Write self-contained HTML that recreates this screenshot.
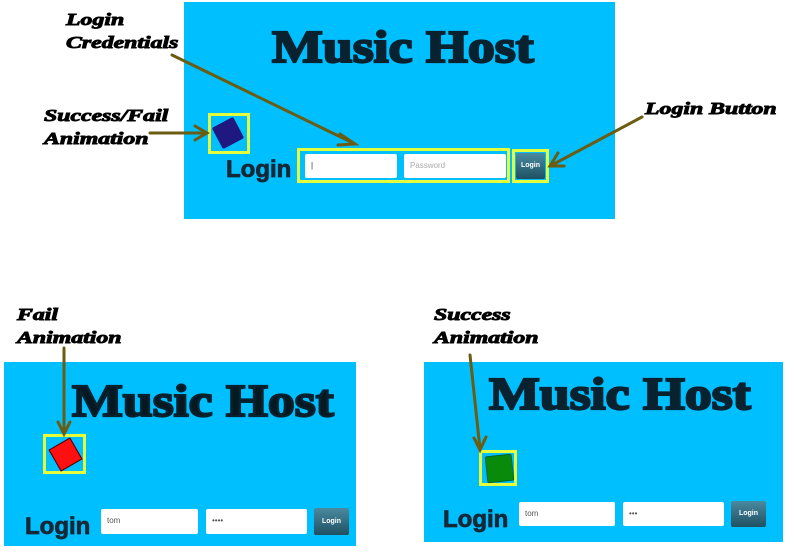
<!DOCTYPE html>
<html><head><meta charset="utf-8"><style>
body{margin:0;width:794px;height:552px;background:#fff;position:relative;overflow:hidden;font-family:"Liberation Sans",sans-serif}
.p{position:absolute;background:#00bfff}
.a{position:absolute}
.t{position:absolute;font-family:"Liberation Serif",serif;font-weight:bold;color:#082230;font-size:46px;white-space:nowrap;transform:scaleX(1.17);transform-origin:left;-webkit-text-stroke:2.2px #082230}
.lg{position:absolute;font-weight:bold;color:#142838;font-size:24px;-webkit-text-stroke:0.8px #142838}
.in{position:absolute;background:#fff;border-radius:2px;font-size:8px;color:#555;line-height:24px;padding-left:6px;box-sizing:border-box}
.bt{position:absolute;background:linear-gradient(#4a8aa0,#1f5062);color:#fff;font-size:7px;font-weight:bold;text-align:center;border-radius:2px}
.y{position:absolute;border:3px solid #e4ff3c;box-sizing:border-box}
.lb{position:absolute;font-family:"Liberation Serif",serif;font-weight:bold;font-style:italic;font-size:17px;line-height:23px;color:#000;white-space:nowrap;transform:scaleX(1.4);transform-origin:left;-webkit-text-stroke:0.9px #000}
</style></head><body>
<div class="p" style="left:184px;top:2px;width:431px;height:217px"></div>
<div class="t" style="left:272px;top:20px">Music Host</div>
<div class="y" style="left:208px;top:113px;width:42px;height:41px"></div>
<div class="a" style="left:216px;top:121px;width:24px;height:24px;background:#1e1880;transform:rotate(-28deg);border-radius:2px"></div>
<div class="lg" style="left:226px;top:156px">Login</div>
<div class="y" style="left:297px;top:148px;width:213px;height:35px"></div>
<div class="in" style="left:305px;top:154px;width:92px;height:24px;color:#333">|</div>
<div class="in" style="left:404px;top:154px;width:102px;height:24px;color:#aaa">Password</div>
<div class="y" style="left:512px;top:149px;width:37px;height:34px"></div>
<div class="bt" style="left:516px;top:153px;width:29px;height:26px;line-height:26px">Login</div>

<div class="p" style="left:4px;top:362px;width:352px;height:184px"></div>
<div class="t" style="left:72px;top:374px;color:#061820">Music Host</div>
<div class="y" style="left:43px;top:434px;width:43px;height:40px"></div>
<div class="a" style="left:53px;top:442px;width:23px;height:23px;background:#ff1010;border:1px solid #400;transform:rotate(-30deg)"></div>
<div class="lg" style="left:25px;top:513px">Login</div>
<div class="in" style="left:101px;top:509px;width:97px;height:25px">tom</div>
<div class="in" style="left:206px;top:509px;width:101px;height:25px">••••</div>
<div class="bt" style="left:314px;top:508px;width:35px;height:27px;line-height:27px">Login</div>

<div class="p" style="left:424px;top:362px;width:359px;height:180px"></div>
<div class="t" style="left:489px;top:367px">Music Host</div>
<div class="y" style="left:479px;top:450px;width:38px;height:36px"></div>
<div class="a" style="left:486px;top:455px;width:25px;height:25px;background:#0a8a0a;border:1px solid #063;transform:rotate(-6deg);border-radius:2px"></div>
<div class="lg" style="left:443px;top:506px">Login</div>
<div class="in" style="left:519px;top:502px;width:96px;height:24px">tom</div>
<div class="in" style="left:623px;top:502px;width:101px;height:24px">•••</div>
<div class="bt" style="left:731px;top:501px;width:35px;height:26px;line-height:26px">Login</div>

<div class="lb" style="left:66px;top:8px">Login<br>Credentials</div>
<div class="lb" style="left:44px;top:104px">Success/Fail<br>Animation</div>
<div class="lb" style="left:645px;top:97px">Login Button</div>
<div class="lb" style="left:17px;top:303px">Fail<br>Animation</div>
<div class="lb" style="left:434px;top:303px">Success<br>Animation</div>

<svg class="a" style="left:0;top:0" width="794" height="552">
<g stroke="#6b5c12" stroke-width="3" fill="none" stroke-linecap="round">
<line x1="172" y1="55" x2="353" y2="143"/><polyline points="340,134 355,144 338,145"/>
<line x1="150" y1="133" x2="206" y2="133"/><polyline points="195,126 207,133 195,140"/>
<line x1="642" y1="117" x2="552" y2="165"/><polyline points="558,153 550,166 564,166"/>
<line x1="64" y1="348" x2="64" y2="433"/><polyline points="58,422 64,434 70,422"/>
<line x1="470" y1="355" x2="480" y2="449"/><polyline points="474,438 480,450 486,437"/>
</g></svg>
</body></html>
